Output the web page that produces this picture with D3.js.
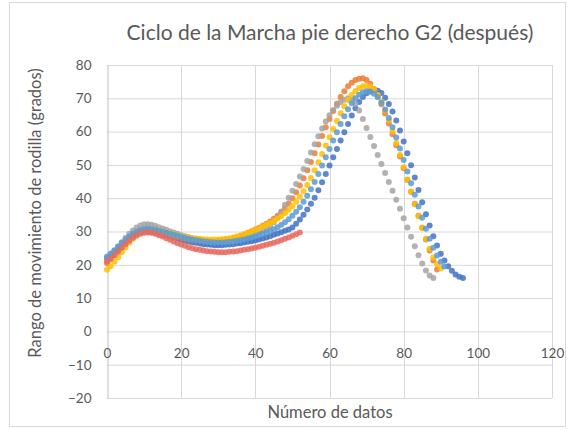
<!DOCTYPE html>
<html>
<head>
<meta charset="utf-8">
<script src="https://cdn.jsdelivr.net/npm/d3@7"></script>
<style>
  body { margin: 0; background: #fff; }
  text { font-family: Lato, "Open Sans", sans-serif; }
</style>
</head>
<body>
<div id="chart"></div>
<script>
// chart size
const W = 569, H = 430;
const plot = {left: 107, right: 552, top: 65, bottom: 398};

const title = "Ciclo de la Marcha pie derecho G2 (después)";
const xTitle = "Número de datos";
const yTitle = "Rango de movimiento de rodilla (grados)";
const xTicks = [0, 20, 40, 60, 80, 100, 120];
const yTicks = [-20, -10, 0, 10, 20, 30, 40, 50, 60, 70, 80];

// one value per data number (x = index)
const serieAzul = [22.0,22.8,23.7,24.7,25.8,26.9,27.9,28.7,29.3,29.7,30.0,30.0,29.9,29.7,29.4,29.1,28.8,28.5,28.2,27.9,
  27.6,27.3,27.0,26.8,26.6,26.4,26.2,26.1,26.0,25.9,25.9,25.9,26.0,26.1,26.2,26.4,26.5,26.7,26.9,27.1,
  27.3,27.6,27.9,28.2,28.6,29.0,29.4,29.8,30.2,30.6,31.2,32.3,33.6,35.0,36.6,38.3,40.1,42.4,44.8,47.3,
  49.8,52.3,54.8,57.3,59.8,62.3,64.8,67.0,68.9,70.4,71.5,72.2,72.5,72.3,71.6,70.2,68.3,66.0,63.3,60.3,
  57.0,53.5,49.9,46.2,42.5,38.8,35.2,31.8,28.6,25.8,23.3,21.3,19.6,18.2,17.1,16.4,16.0];
const serieNaranja = [20.5,21.6,22.8,24.0,25.3,26.5,27.6,28.6,29.4,30.0,30.4,30.5,30.4,30.2,29.9,29.6,29.3,29.0,28.7,28.4,
  28.1,27.9,27.7,27.5,27.4,27.3,27.2,27.1,27.1,27.1,27.2,27.3,27.5,27.7,28.0,28.3,28.7,29.1,29.6,30.1,
  30.6,31.1,31.7,32.3,33.0,33.8,34.7,35.8,37.0,38.4,40.0,41.8,43.8,46.0,48.4,50.9,53.5,56.1,58.7,61.3,
  63.8,66.2,68.4,70.4,72.1,73.6,74.7,75.5,75.9,76.0,75.5,74.4,72.8,70.7,68.2,65.4,62.4,59.2,55.9,52.5,
  49.0,45.5,41.9,38.3,34.7,31.1,27.6,24.3,21.3,18.6];
const serieGris = [22.0,23.0,24.2,25.5,26.8,28.1,29.3,30.3,31.2,31.8,32.2,32.2,32.0,31.7,31.3,30.9,30.5,30.1,29.7,29.3,
  28.9,28.6,28.3,28.0,27.8,27.6,27.4,27.2,27.1,27.0,27.0,27.0,27.1,27.2,27.4,27.6,27.8,28.1,28.4,28.8,
  29.2,29.7,30.3,31.0,31.8,32.8,34.2,36.0,38.0,40.1,42.2,44.3,46.5,48.8,51.2,53.7,56.2,58.6,60.9,63.0,
  64.9,66.5,67.8,68.9,69.6,70.0,69.6,68.3,66.3,63.8,61.1,58.4,55.7,53.0,50.3,47.6,44.9,42.2,39.5,36.8,
  34.0,31.2,28.4,25.6,22.9,20.4,18.3,16.8,16.0];
const serieAmarillo = [18.5,19.6,20.9,22.3,23.8,25.2,26.6,27.8,28.8,29.6,30.2,30.5,30.6,30.5,30.3,30.0,29.7,29.4,29.1,28.8,
  28.6,28.4,28.2,28.0,27.9,27.8,27.7,27.6,27.6,27.6,27.6,27.7,27.8,28.0,28.2,28.5,28.8,29.2,29.6,30.0,
  30.5,31.0,31.5,32.0,32.5,33.1,33.8,34.6,35.5,36.5,37.6,38.9,40.4,42.1,44.0,46.1,48.4,50.8,53.3,55.8,
  58.3,60.8,63.2,65.5,67.6,69.5,71.0,72.2,73.1,73.6,73.8,73.5,72.6,71.1,69.0,66.4,63.4,60.1,56.6,53.0,
  49.3,45.6,41.9,38.2,34.6,31.1,27.8,24.8,22.2,20.2,19.0];
const serieCeleste = [22.5,23.4,24.4,25.5,26.6,27.6,28.5,29.3,29.9,30.4,30.7,30.8,30.7,30.5,30.2,29.9,29.6,29.3,29.0,28.7,
  28.4,28.1,27.8,27.6,27.4,27.2,27.0,26.9,26.8,26.7,26.7,26.7,26.8,26.9,27.0,27.2,27.4,27.6,27.9,28.2,
  28.5,28.9,29.3,29.7,30.2,30.7,31.3,32.0,32.8,33.7,34.7,35.9,37.3,38.9,40.7,42.7,44.9,47.3,49.8,52.3,
  54.8,57.3,59.8,62.3,64.6,66.7,68.5,70.0,71.1,71.8,72.1,72.0,71.4,70.3,68.7,66.6,64.1,61.3,58.2,54.9,
  51.5,48.0,44.5,41.0,37.5,34.1,30.8,27.8,25.1,22.8,20.9,19.5];
const serieRoja = [21.0,21.9,22.9,24.0,25.1,26.2,27.2,28.1,28.8,29.3,29.6,29.7,29.6,29.3,28.9,28.5,28.0,27.5,27.0,26.5,
  26.1,25.7,25.3,25.0,24.7,24.5,24.3,24.1,24.0,23.9,23.8,23.8,23.8,23.9,24.0,24.1,24.3,24.5,24.7,24.9,
  25.1,25.4,25.7,26.0,26.3,26.6,27.0,27.4,27.8,28.2,28.7,29.2,29.7];

const series = [
  {values: serieAzul, color: "#4472C4"},
  {values: serieNaranja, color: "#ED7D31"},
  {values: serieGris, color: "#A5A5A5"},
  {values: serieAmarillo, color: "#FFC000"},
  {values: serieCeleste, color: "#5B9BD5"},
  {values: serieRoja, color: "#E86A5E"}
];

const svg = d3.select("#chart").append("svg")
  .attr("width", W).attr("height", H);

svg.append("rect")
  .attr("x", 9.5).attr("y", 2.5).attr("width", 556).attr("height", 424)
  .attr("fill", "#fff").attr("stroke", "#D9D9D9");

const x = d3.scaleLinear().domain([0, 120]).range([plot.left, plot.right]);
const y = d3.scaleLinear().domain([-20, 80]).range([plot.bottom, plot.top]);

// gridlines
svg.append("g")
  .selectAll("line.h").data(yTicks).join("line")
  .attr("x1", plot.left).attr("x2", plot.right)
  .attr("y1", d => y(d) + 0.5).attr("y2", d => y(d) + 0.5)
  .attr("stroke", "#D9D9D9").attr("stroke-width", 1);
svg.append("g")
  .selectAll("line.v").data(xTicks.slice(1)).join("line")
  .attr("y1", plot.top).attr("y2", plot.bottom)
  .attr("x1", d => Math.round(x(d)) + 0.5).attr("x2", d => Math.round(x(d)) + 0.5)
  .attr("stroke", "#D9D9D9").attr("stroke-width", 1);

// y axis
const yAxis = svg.append("g")
  .attr("transform", `translate(${plot.left + 0.5},0)`)
  .call(d3.axisLeft(y).tickValues(yTicks).tickSize(0).tickPadding(16));
yAxis.select(".domain").attr("stroke", "#BFBFBF");
yAxis.selectAll("text").attr("fill", "#595959").style("font-size", "13.5px").style("font-family", "Lato, sans-serif");

// x axis labels sit under the 0 line
const xAxis = svg.append("g")
  .attr("transform", `translate(0,${y(0)})`)
  .call(d3.axisBottom(x).tickValues(xTicks).tickSize(0).tickPadding(17));
xAxis.select(".domain").remove();
xAxis.selectAll("text").attr("fill", "#595959").style("font-size", "13.5px").style("font-family", "Lato, sans-serif");

// markers
series.forEach(s => {
  svg.append("g")
    .selectAll("circle").data(s.values).join("circle")
    .attr("cx", (d, i) => x(i))
    .attr("cy", d => y(d))
    .attr("r", 3)
    .attr("fill", s.color)
    .attr("fill-opacity", 0.85);
});

svg.append("text")
  .attr("x", 330).attr("y", 40)
  .attr("text-anchor", "middle")
  .attr("fill", "#595959")
  .style("font-size", "21px")
  .text(title);

svg.append("text")
  .attr("x", 330).attr("y", 418)
  .attr("text-anchor", "middle")
  .attr("fill", "#595959")
  .style("font-size", "16.5px")
  .text(xTitle);

svg.append("text")
  .attr("transform", `translate(41,${213}) rotate(-90)`)
  .attr("text-anchor", "middle")
  .attr("fill", "#595959")
  .style("font-size", "16.5px")
  .text(yTitle);
</script>
</body>
</html>
